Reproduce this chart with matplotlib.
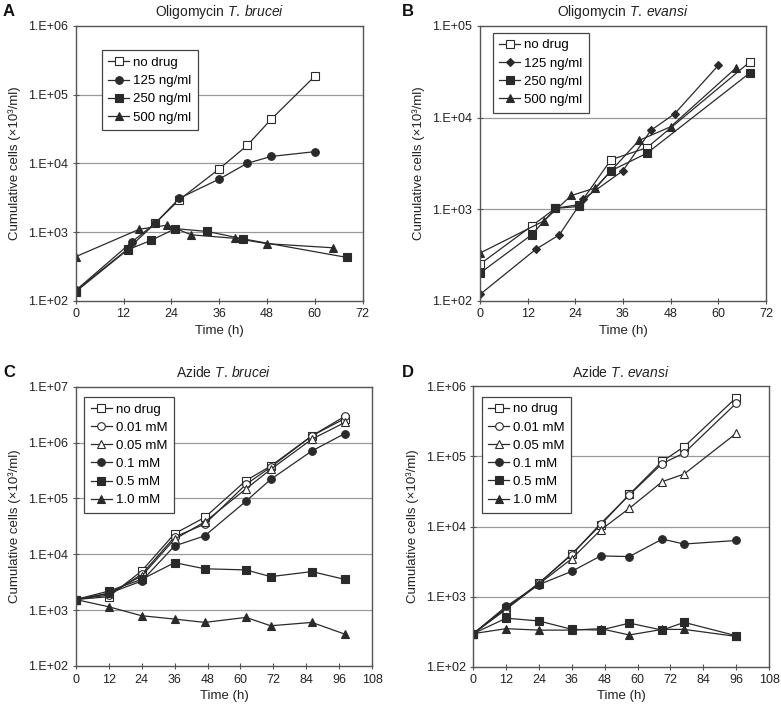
import matplotlib
matplotlib.use("Agg")
import matplotlib.pyplot as plt
from matplotlib.ticker import FixedLocator, FuncFormatter, NullLocator
import numpy as np

plt.rcParams['font.family'] = ['Liberation Sans', 'DejaVu Sans']
plt.rcParams['mathtext.fontset'] = 'custom'
plt.rcParams['mathtext.rm'] = 'Liberation Sans'
plt.rcParams['mathtext.it'] = 'Liberation Sans:italic'

# ---------------- Panel A: Oligomycin T. brucei ----------------
a_nodrug_t = [0, 13, 20, 26, 36, 43, 49, 60]
a_nodrug = [140, 560, 1350, 2950, 8300, 18200, 43600, 186000]
a_125_t = [0, 14, 20, 26, 36, 43, 49, 60]
a_125 = [141, 710, 1350, 3100, 5900, 10000, 12600, 14800]
a_250_t = [0, 13, 19, 25, 33, 42, 68]
a_250 = [135, 550, 760, 1120, 1020, 795, 427]
a_500_t = [0, 16, 23, 29, 40, 48, 64.5]
a_500 = [437, 1100, 1260, 910, 810, 676, 590]

# ---------------- Panel B: Oligomycin T. evansi ----------------
b_nodrug_t = [0, 13, 19, 25, 33, 42, 68]
b_nodrug = [251, 653, 1023, 1120, 3470, 4680, 40700]
b_125_t = [0, 14, 20, 26, 36, 43, 49, 60]
b_125 = [117, 363, 525, 1290, 2630, 7240, 11000, 37200]
b_250_t = [0, 13, 19, 25, 33, 42, 68]
b_250 = [200, 525, 1020, 1070, 2630, 4070, 30900]
b_500_t = [0, 16, 23, 29, 40, 48, 64.4]
b_500 = [331, 741, 1410, 1700, 5620, 7940, 34700]

# ---------------- Panel C: Azide T. brucei ----------------
c_t = [0, 12, 24, 36, 47, 62, 71, 86, 98]
c_nodrug = [1550, 1740, 5010, 23400, 45700, 209000, 380000, 1320000, 2690000]
c_001 = [1550, 1860, 4370, 20400, 34700, 178000, 363000, 1320000, 2950000]
c_005 = [1550, 2000, 4070, 18600, 38000, 148000, 331000, 1150000, 2290000]
c_01 = [1550, 2000, 3310, 14100, 21400, 89100, 219000, 708000, 1450000]
c_05 = [1550, 2190, 3550, 7080, 5500, 5250, 3980, 4900, 3550]
c_10 = [1550, 1150, 794, 692, 603, 741, 525, 603, 372]

# ---------------- Panel D: Azide T. evansi ----------------
d_t = [0, 12, 24, 36, 46.5, 57, 69, 77, 96]
d_nodrug = [295, 692, 1550, 4070, 10500, 28800, 85100, 138000, 692000]
d_001 = [295, 661, 1550, 3980, 11000, 28200, 79400, 112000, 575000]
d_005 = [295, 661, 1510, 3470, 8910, 18200, 43700, 56200, 214000]
d_01 = [295, 724, 1480, 2290, 3800, 3720, 6610, 5620, 6310]
d_05 = [295, 490, 447, 339, 331, 417, 331, 427, 275]
d_10 = [295, 347, 331, 331, 347, 282, 339, 339, 269]

oligo_labels = ["no drug", "125 ng/ml", "250 ng/ml", "500 ng/ml"]
azide_labels = ["no drug", "0.01 mM", "0.05 mM", "0.1 mM", "0.5 mM", "1.0 mM"]

W, H = 781, 712
fig = plt.figure(figsize=(W / 100, H / 100), dpi=100)

LINE = '#2a2a2a'
FILL = '#2a2a2a'
GRID = '#9a9a9a'
TXT = '#222222'


def make_ax(left, right, top, bottom):
    return fig.add_axes([left / W, 1 - bottom / H, (right - left) / W, (bottom - top) / H])


def style(kind):
    base = dict(color=LINE, lw=0.9, markeredgecolor=LINE, markeredgewidth=0.8)
    if kind == 'os':
        base.update(marker='s', markerfacecolor='white', markersize=5.5)
    elif kind == 'oc':
        base.update(marker='o', markerfacecolor='white', markersize=5.5)
    elif kind == 'ot':
        base.update(marker='^', markerfacecolor='white', markersize=6)
    elif kind == 'fc':
        base.update(marker='o', markerfacecolor=FILL, markersize=5.5)
    elif kind == 'fs':
        base.update(marker='s', markerfacecolor=FILL, markersize=5.5)
    elif kind == 'ft':
        base.update(marker='^', markerfacecolor=FILL, markersize=6)
    elif kind == 'fd':
        base.update(marker='D', markerfacecolor=FILL, markersize=4.5)
    return base


def setup(ax, ymin_exp, ymax_exp, xmax, title, letter, letter_x):
    ax.set_yscale('log')
    ax.set_ylim(10 ** ymin_exp, 10 ** ymax_exp)
    ax.set_xlim(0, xmax)
    ax.set_xticks(np.arange(0, xmax + 1, 12))
    decs = [10.0 ** e for e in range(ymin_exp, ymax_exp + 1)]
    ax.yaxis.set_major_locator(FixedLocator(decs))
    ax.yaxis.set_minor_locator(NullLocator())
    ax.yaxis.set_major_formatter(FuncFormatter(lambda v, p: "1.E+%02d" % int(round(np.log10(v)))))
    for e in range(ymin_exp + 1, ymax_exp):
        ax.axhline(10.0 ** e, color=GRID, lw=0.9, zorder=0)
    for s in ax.spines.values():
        s.set_color('#555555')
        s.set_linewidth(1.0)
    ax.tick_params(axis='both', direction='inout', length=5, width=0.8, color='#555555',
                   labelsize=9, labelcolor=TXT, pad=3)
    ax.set_xlabel("Time (h)", fontsize=9.5, color=TXT, labelpad=3)
    ax.set_ylabel("Cumulative cells (×10³/ml)", fontsize=9.5, color=TXT, labelpad=5)
    ax.set_title(title, fontsize=10, color=TXT, pad=7)
    fig.text(letter_x / W, 1 - 12 / H if letter in "AB" else 1 - 372 / H, letter,
             fontsize=12, fontweight='bold', ha='left', va='center', color='#111111')


def legend(ax, x, y):
    lg = ax.legend(loc='upper left', bbox_to_anchor=(x, y), borderaxespad=0, fancybox=False,
                   edgecolor='#444444', framealpha=1, fontsize=9.5, handlelength=1.6,
                   handletextpad=0.3, labelspacing=0.45, borderpad=0.5)
    lg.get_frame().set_linewidth(0.9)
    lg.set_zorder(1)


# Panel A
axA = make_ax(75.7, 362.7, 26, 300.7)
axA.plot(a_nodrug_t, a_nodrug, label=oligo_labels[0], **style('os'))
axA.plot(a_125_t, a_125, label=oligo_labels[1], **style('fc'))
axA.plot(a_250_t, a_250, label=oligo_labels[2], **style('fs'))
axA.plot(a_500_t, a_500, label=oligo_labels[3], **style('ft'))
setup(axA, 2, 6, 72, r"Oligomycin $\mathit{T.\,brucei}$", "A", 3)
legend(axA, 0.09, 0.912)

# Panel B
axB = make_ax(480, 766, 26, 300.7)
axB.plot(b_nodrug_t, b_nodrug, label=oligo_labels[0], **style('os'))
axB.plot(b_125_t, b_125, label=oligo_labels[1], **style('fd'))
axB.plot(b_250_t, b_250, label=oligo_labels[2], **style('fs'))
axB.plot(b_500_t, b_500, label=oligo_labels[3], **style('ft'))
setup(axB, 2, 5, 72, r"Oligomycin $\mathit{T.\,evansi}$", "B", 402)
legend(axB, 0.044, 0.976)

# Panel C
axC = make_ax(75.7, 372.3, 386.7, 666)
axC.plot(c_t, c_nodrug, label=azide_labels[0], **style('os'))
axC.plot(c_t, c_001, label=azide_labels[1], **style('oc'))
axC.plot(c_t, c_005, label=azide_labels[2], **style('ot'))
axC.plot(c_t, c_01, label=azide_labels[3], **style('fc'))
axC.plot(c_t, c_05, label=azide_labels[4], **style('fs'))
axC.plot(c_t, c_10, label=azide_labels[5], **style('ft'))
setup(axC, 2, 7, 108, r"Azide $\mathit{T.\,brucei}$", "C", 3)
legend(axC, 0.028, 0.964)

# Panel D
axD = make_ax(473.3, 769, 386.5, 666.5)
axD.plot(d_t, d_nodrug, label=azide_labels[0], **style('os'))
axD.plot(d_t, d_001, label=azide_labels[1], **style('oc'))
axD.plot(d_t, d_005, label=azide_labels[2], **style('ot'))
axD.plot(d_t, d_01, label=azide_labels[3], **style('fc'))
axD.plot(d_t, d_05, label=azide_labels[4], **style('fs'))
axD.plot(d_t, d_10, label=azide_labels[5], **style('ft'))
setup(axD, 2, 6, 108, r"Azide $\mathit{T.\,evansi}$", "D", 402)
legend(axD, 0.028, 0.964)

fig.savefig("out.png", dpi=100)
